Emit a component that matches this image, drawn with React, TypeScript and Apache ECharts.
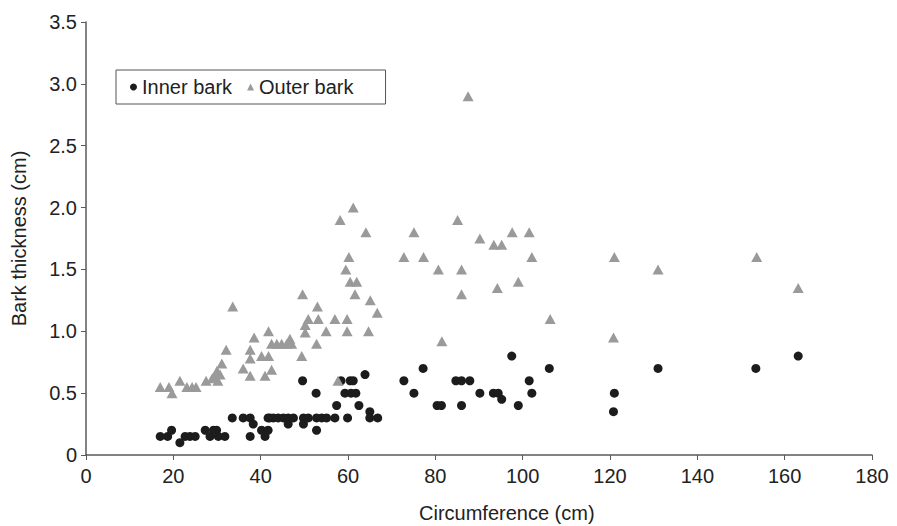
import React, { useEffect, useRef } from "react";
import * as echarts from "echarts";

const seriesNames = ["Inner bark", "Outer bark"];

const innerBark: [number, number][] = [
  [17, 0.15], [18.7, 0.15], [19.6, 0.2], [21.5, 0.1], [22.7, 0.15], [23.8, 0.15], [25, 0.15],
  [27.3, 0.2], [28.4, 0.15], [29.2, 0.2], [29.9, 0.2], [30.3, 0.15], [31.8, 0.15], [33.5, 0.3],
  [36, 0.3], [37.6, 0.3], [37.6, 0.15], [38.3, 0.25], [40.2, 0.2], [41, 0.15], [41.7, 0.2],
  [41.7, 0.3], [42.1, 0.3], [42.9, 0.3], [44, 0.3], [45.2, 0.3], [46.3, 0.3], [46.3, 0.25],
  [47.5, 0.3], [49.6, 0.6], [49.8, 0.3], [49.8, 0.25], [50.9, 0.3], [52.7, 0.5], [52.8, 0.3],
  [52.8, 0.2], [54, 0.3], [55.1, 0.3], [57, 0.3], [57.4, 0.4], [58.4, 0.6], [59.3, 0.5],
  [59.9, 0.3], [60.5, 0.6], [60.7, 0.5], [61.2, 0.6], [61.8, 0.5], [62.5, 0.4], [63.9, 0.65],
  [65, 0.35], [65, 0.3], [66.8, 0.3], [72.8, 0.6], [75.1, 0.5], [77.2, 0.7], [80.4, 0.4],
  [81.4, 0.4], [84.7, 0.6], [86, 0.6], [86, 0.4], [87.9, 0.6], [90.2, 0.5], [93.3, 0.5],
  [94.4, 0.5], [95.2, 0.45], [97.5, 0.8], [99, 0.4], [101.5, 0.6], [102.1, 0.5], [106.1, 0.7],
  [121, 0.5], [120.8, 0.35], [131, 0.7], [153.4, 0.7], [163.1, 0.8],
];

const outerBark: [number, number][] = [
  [17, 0.55], [19, 0.55], [19.7, 0.5], [21.5, 0.6], [23.1, 0.55], [24.3, 0.55], [25.2, 0.55],
  [27.5, 0.6], [28.9, 0.62], [29.5, 0.64], [30, 0.68], [30.7, 0.65], [30.2, 0.6], [31.1, 0.74],
  [32.1, 0.85], [33.6, 1.2], [36, 0.7], [37.6, 0.85], [37.6, 0.78], [38.5, 0.95], [37.6, 0.64],
  [40.2, 0.8], [41, 0.64], [41.8, 1.0], [41.8, 0.8], [42.5, 0.9], [42.5, 0.69], [43.7, 0.9],
  [44.8, 0.9], [46, 0.9], [46.7, 0.94], [47.1, 0.9], [49.4, 0.8], [49.6, 1.3], [50.2, 1.05],
  [50.2, 0.99], [50.9, 1.1], [52.8, 0.9], [53, 1.2], [53.2, 1.1], [55, 1.0], [57, 1.1],
  [57.7, 0.6], [58.2, 1.9], [59.5, 1.5], [59.8, 1.1], [59.8, 1.0], [60.2, 1.6], [60.5, 1.4],
  [61.2, 2.0], [61.6, 1.3], [62, 1.4], [64.1, 1.8], [64.7, 1.0], [65.1, 1.25], [66.7, 1.15],
  [72.8, 1.6], [75.1, 1.8], [77.3, 1.6], [80.7, 1.5], [81.5, 0.92], [85.1, 1.9], [86, 1.5],
  [86, 1.3], [87.5, 2.9], [90.2, 1.75], [93.4, 1.7], [94.2, 1.35], [95.2, 1.7], [97.6, 1.8],
  [99, 1.4], [101.5, 1.8], [102.1, 1.6], [106.3, 1.1], [120.8, 0.95], [121, 1.6], [131, 1.5],
  [153.6, 1.6], [163.1, 1.35],
];

const xTitle = "Circumference (cm)";
const yTitle = "Bark thickness (cm)";

const FONT = "'Liberation Sans', Arial, sans-serif";
const AXIS_COLOR = "#5a5a5a";
const TEXT_COLOR = "#222";

export default function App() {
  const ref = useRef<HTMLDivElement>(null);

  useEffect(() => {
    if (!ref.current) return;
    const chart = echarts.init(ref.current, null, { renderer: "svg" });
    chart.setOption({
      animation: false,
      backgroundColor: "#fff",
      textStyle: { fontFamily: FONT, color: TEXT_COLOR },
      grid: { left: 86, right: 25, top: 22, bottom: 71, containLabel: false },
      legend: {
        left: 116,
        top: 70,
        orient: "horizontal",
        data: [
          { name: seriesNames[0], icon: "circle" },
          { name: seriesNames[1], icon: "triangle" },
        ],
        itemWidth: 7,
        itemHeight: 7,
        itemGap: 15,
        padding: [7, 32, 7, 14],
        borderColor: "#555",
        borderWidth: 1,
        textStyle: { fontSize: 20, fontFamily: FONT, color: TEXT_COLOR },
      },
      xAxis: {
        type: "value",
        min: 0,
        max: 180,
        interval: 20,
        splitLine: { show: false },
        axisLine: { show: true, lineStyle: { color: AXIS_COLOR, width: 1.5 } },
        axisTick: { show: true, length: 5, inside: false, lineStyle: { color: AXIS_COLOR } },
        axisLabel: { fontSize: 20, color: TEXT_COLOR, margin: 11, fontFamily: FONT },
      },
      yAxis: {
        type: "value",
        min: 0,
        max: 3.5,
        interval: 0.5,
        name: yTitle,
        nameLocation: "middle",
        nameGap: 57,
        nameTextStyle: { fontSize: 20, color: TEXT_COLOR, fontFamily: FONT },
        splitLine: { show: false },
        axisLine: { show: true, lineStyle: { color: AXIS_COLOR, width: 1.5 } },
        axisTick: { show: true, length: 5, inside: false, lineStyle: { color: AXIS_COLOR } },
        axisLabel: {
          fontSize: 20,
          color: TEXT_COLOR,
          margin: 9,
          fontFamily: FONT,
          formatter: (v: number) => (v === 0 ? "0" : v.toFixed(1)),
        },
      },
      graphic: [
        {
          type: "text",
          left: 419,
          top: 503,
          style: { text: xTitle, fontSize: 20, fill: TEXT_COLOR, fontFamily: FONT },
        },
      ],
      series: [
        {
          name: seriesNames[0],
          type: "scatter",
          symbol: "circle",
          symbolSize: 9,
          data: innerBark,
          itemStyle: { color: "#1c1c1c", opacity: 1 },
        },
        {
          name: seriesNames[1],
          type: "scatter",
          symbol: "triangle",
          symbolSize: [11, 10],
          data: outerBark,
          itemStyle: { color: "#9a9a9a", opacity: 1 },
        },
      ],
    });
    return () => chart.dispose();
  }, []);

  return <div ref={ref} style={{ width: 897, height: 526, position: "absolute", left: 0, top: 0 }} />;
}
